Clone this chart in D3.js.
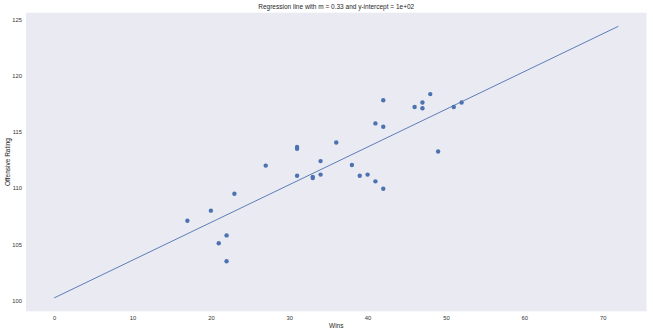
<!DOCTYPE html>
<html lang="en">
<head>
<meta charset="utf-8" />
<title>Regression line</title>
<script src="https://cdn.jsdelivr.net/npm/d3@7"></script>
<style>
  body { margin: 0; background: #fff; font-family: "Liberation Sans", Arial, sans-serif; }
  .tick text { fill: #333; font-size: 5.8px; }
  .lbl { fill: #262626; font-size: 6.5px; }
</style>
</head>
<body>
<div id="chart"></div>
<script>
// wins vs offensive rating
var wins   = [17, 20, 21, 22, 22, 23, 27, 31, 31, 31, 33, 33, 34, 34, 36, 38, 39, 40, 41, 41, 42, 42, 42, 46, 47, 47, 48, 49, 51, 52];
var rating = [107.1, 108.0, 105.1, 105.8, 103.5, 109.5, 112.0, 113.5, 113.65, 111.1, 110.9, 111.0, 112.4, 111.2, 114.05, 112.05, 111.1, 111.2, 115.75, 110.6, 117.8, 115.45, 109.95, 117.2, 117.6, 117.1, 118.35, 113.25, 117.2, 117.6];

var slope = 0.335, intercept = 100.25;
var lineX = [0, 72];
var xTicks = [0, 10, 20, 30, 40, 50, 60, 70];
var yTicks = [100, 105, 110, 115, 120, 125];

var width = 653, height = 334;
var plot = {left: 26, right: 646.5, top: 12.7, bottom: 311.3};

var svg = d3.select("#chart").append("svg")
    .attr("width", width)
    .attr("height", height);

var x = d3.scaleLinear()
    .domain([-3.6, 75.6])
    .range([plot.left, plot.right]);

var y = d3.scaleLinear()
    .domain([99.06, 125.58])
    .range([plot.bottom, plot.top]);

svg.append("rect")
    .attr("x", plot.left)
    .attr("y", plot.top)
    .attr("width", plot.right - plot.left)
    .attr("height", plot.bottom - plot.top)
    .attr("fill", "#eaeaf2");

var xAxis = svg.append("g")
    .attr("transform", "translate(0," + plot.bottom + ")")
    .call(d3.axisBottom(x).tickValues(xTicks).tickSize(0).tickPadding(5));
xAxis.select(".domain").remove();

var yAxis = svg.append("g")
    .attr("transform", "translate(" + plot.left + ",0)")
    .call(d3.axisLeft(y).tickValues(yTicks).tickSize(0).tickPadding(4));
yAxis.select(".domain").remove();

svg.append("line")
    .attr("x1", x(lineX[0])).attr("y1", y(intercept + slope * lineX[0]))
    .attr("x2", x(lineX[1])).attr("y2", y(intercept + slope * lineX[1]))
    .attr("stroke", "#4c72b0")
    .attr("stroke-width", 0.9);

svg.selectAll("circle.pt")
    .data(wins)
    .enter().append("circle")
    .attr("class", "pt")
    .attr("cx", function(d) { return x(d); })
    .attr("cy", function(d, i) { return y(rating[i]); })
    .attr("r", 2.2)
    .attr("fill", "#4c72b0");

svg.append("text")
    .attr("class", "lbl")
    .attr("x", (plot.left + plot.right) / 2)
    .attr("y", 9)
    .attr("text-anchor", "middle")
    .text("Regression line with m = 0.33 and y-intercept = 1e+02");

svg.append("text")
    .attr("class", "lbl")
    .attr("x", (plot.left + plot.right) / 2)
    .attr("y", 328)
    .attr("text-anchor", "middle")
    .text("Wins");

svg.append("text")
    .attr("class", "lbl")
    .attr("transform", "translate(10," + ((plot.top + plot.bottom) / 2) + ") rotate(-90)")
    .attr("text-anchor", "middle")
    .text("Offensive Rating");
</script>
</body>
</html>
